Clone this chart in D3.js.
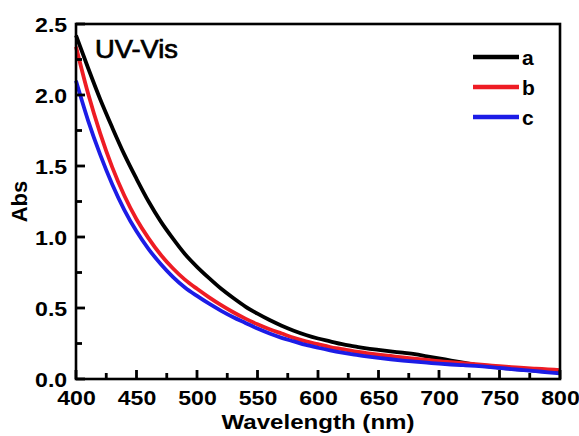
<!DOCTYPE html>
<html>
<head>
<meta charset="utf-8">
<script src="https://cdn.jsdelivr.net/npm/d3@7"></script>
<style>
  html, body { margin: 0; padding: 0; background: #fff; }
  svg { display: block; }
  text { font-family: "Liberation Sans", Arial, sans-serif; }
</style>
</head>
<body>
<svg id="chart" width="579" height="436"></svg>
<script>
const wavelengths = [400,410,420,430,440,450,460,470,480,490,500,510,520,530,540,550,560,570,580,590,600,610,620,630,640,650,660,670,680,690,700,710,720,730,740,750,760,770,780,790,800];
const seriesA = [2.42,2.19,1.97,1.77,1.58,1.41,1.25,1.11,0.99,0.88,0.79,0.71,0.635,0.57,0.51,0.46,0.415,0.375,0.34,0.31,0.285,0.265,0.245,0.23,0.215,0.205,0.195,0.185,0.175,0.16,0.145,0.13,0.115,0.10,0.09,0.08,0.072,0.065,0.06,0.055,0.05];
const seriesB = [2.34,2.01,1.73,1.49,1.29,1.125,0.99,0.875,0.78,0.70,0.635,0.575,0.52,0.47,0.425,0.385,0.35,0.32,0.29,0.265,0.245,0.225,0.21,0.195,0.183,0.172,0.162,0.152,0.143,0.134,0.126,0.118,0.111,0.104,0.097,0.09,0.084,0.078,0.073,0.068,0.063];
const seriesC = [2.10,1.82,1.58,1.37,1.19,1.04,0.915,0.81,0.72,0.645,0.585,0.53,0.48,0.435,0.395,0.355,0.32,0.29,0.265,0.24,0.22,0.202,0.186,0.172,0.16,0.149,0.139,0.13,0.122,0.115,0.108,0.102,0.097,0.092,0.086,0.078,0.07,0.062,0.055,0.047,0.04];
const seriesNames = ["a","b","c"];
const seriesColors = ["#000000","#ee1c24","#1c1ce6"];
const xTicks = [400,450,500,550,600,650,700,750,800];
const xMinorTicks = [425,475,525,575,625,675,725,775];
const yTicks = [0.0,0.5,1.0,1.5,2.0,2.5];
const yMinorTicks = [0.25,0.75,1.25,1.75,2.25];
const xTitle = "Wavelength (nm)";
const yTitle = "Abs";
const panelLabel = "UV-Vis";

const W = 579, H = 436;
const m = {left: 76, right: 19, top: 24, bottom: 57};
const svg = d3.select("#chart");
const x = d3.scaleLinear().domain([400, 800]).range([m.left, W - m.right]);
const y = d3.scaleLinear().domain([0, 2.5]).range([H - m.bottom, m.top]);
const x0 = m.left, y0 = H - m.bottom;

const series = [seriesA, seriesB, seriesC];
const line = d3.line().x((d, i) => x(wavelengths[i])).y(d => y(d)).curve(d3.curveMonotoneX);

const plot = svg.append("g");
series.forEach((s, k) => {
  plot.append("path").datum(s).attr("d", line)
    .attr("fill", "none").attr("stroke", seriesColors[k])
    .attr("stroke-width", 3.8).attr("stroke-linejoin", "round");
});

// frame
svg.append("rect").attr("x", m.left).attr("y", m.top)
  .attr("width", W - m.left - m.right).attr("height", H - m.top - m.bottom)
  .attr("fill", "none").attr("stroke", "#000").attr("stroke-width", 2.6);

// tick marks (inward) drawn as thin rects
const tickData = [
  ...xTicks.map(v => ({x: x(v) - 1.4, y: y0 - 9, w: 2.8, h: 9})),
  ...xMinorTicks.map(v => ({x: x(v) - 1.4, y: y0 - 6, w: 2.8, h: 6})),
  ...yTicks.map(v => ({x: x0, y: y(v) - 1.4, w: 9, h: 2.8})),
  ...yMinorTicks.map(v => ({x: x0, y: y(v) - 1.4, w: 6, h: 2.8}))
];
svg.append("g").attr("class", "ticks").selectAll("rect").data(tickData).join("rect")
  .attr("x", d => d.x).attr("y", d => d.y).attr("width", d => d.w).attr("height", d => d.h)
  .attr("fill", "#000");

// tick labels through d3 axes
const xAxis = d3.axisBottom(x).tickValues(xTicks).tickFormat(d3.format("d")).tickSize(0).tickPadding(11);
const gx = svg.append("g").attr("transform", `translate(0,${y0})`).call(xAxis);
const yAxis = d3.axisLeft(y).tickValues(yTicks).tickFormat(d3.format(".1f")).tickSize(0).tickPadding(8);
const gy = svg.append("g").attr("transform", `translate(${x0},0)`).call(yAxis);
[gx, gy].forEach(g => {
  g.select(".domain").remove();
  g.selectAll(".tick line").remove();
  g.selectAll(".tick text").attr("font-size", 21).attr("font-weight", "bold").attr("fill", "#000")
    .attr("font-family", "'Liberation Sans', Arial, sans-serif")
    .attr("transform", "scale(1.1,1)");
});
gx.selectAll(".tick text").attr("dy", "0.71em");
gy.selectAll(".tick text").attr("dy", "0.36em");

svg.append("text").attr("x", (m.left + W - m.right) / 2).attr("y", 429)
  .attr("text-anchor", "middle").attr("font-size", 21).attr("font-weight", "bold")
  .attr("textLength", 193).attr("lengthAdjust", "spacingAndGlyphs").text(xTitle);
svg.append("text").attr("transform", `translate(27,${(m.top + H - m.bottom) / 2}) rotate(-90)`)
  .attr("text-anchor", "middle").attr("font-size", 22).attr("font-weight", "bold").text(yTitle);

svg.append("text").attr("x", 95).attr("y", 58).attr("font-size", 25).attr("font-weight", "normal")
  .attr("textLength", 83).attr("lengthAdjust", "spacingAndGlyphs")
  .style("stroke", "#000").style("stroke-width", 0.7).text(panelLabel);

// legend
const legY = [57, 87, 117];
seriesNames.forEach((n, k) => {
  svg.append("line").attr("x1", 473).attr("x2", 519).attr("y1", legY[k]).attr("y2", legY[k])
    .attr("stroke", seriesColors[k]).attr("stroke-width", 4.5);
  svg.append("text").attr("x", 522).attr("y", legY[k]).attr("dy", "0.36em")
    .attr("font-size", 21).attr("font-weight", "bold").text(n);
});
</script>
</body>
</html>
